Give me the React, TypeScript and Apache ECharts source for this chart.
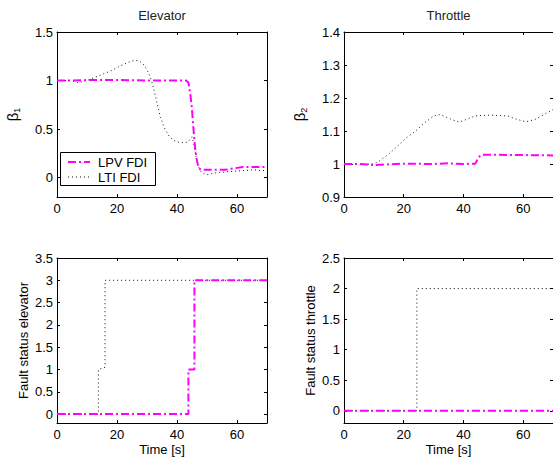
import React, { useEffect, useRef } from 'react';
import * as echarts from 'echarts';

// ---- data ----
const xTicks = [0, 20, 40, 60];
const elevBetaTicks = [0, 0.5, 1, 1.5];
const thrBetaTicks = [0.9, 1, 1.1, 1.2, 1.3, 1.4];
const elevFaultTicks = [0, 0.5, 1, 1.5, 2, 2.5, 3, 3.5];
const thrFaultTicks = [0, 0.5, 1, 1.5, 2, 2.5];

const elevBetaLpv = [
  [0, 1], [5, 1], [10, 1.005], [20, 1.005], [30, 1.0], [40, 1.0], [43, 1.0], [43.8, 0.98],
  [44.5, 0.85], [45, 0.7], [45.5, 0.5], [46, 0.32], [46.6, 0.18], [47.2, 0.1], [48, 0.08],
  [52, 0.08], [56, 0.08], [58, 0.09], [60, 0.1], [62, 0.11], [66, 0.11], [70, 0.11],
];
const elevBetaLti = [
  [0, 1], [4, 1], [7, 0.98], [10, 1.0], [14, 1.05], [18, 1.1], [21, 1.15], [24, 1.19], [26, 1.21],
  [27.5, 1.2], [29, 1.16], [30.5, 1.08], [31.5, 1.0], [32.5, 0.88], [33.5, 0.75], [34.5, 0.62],
  [36, 0.5], [37.5, 0.42], [39, 0.38], [41, 0.36], [43, 0.36], [44, 0.38], [45, 0.42], [45.6, 0.35],
  [46.3, 0.22], [47, 0.12], [48, 0.06], [49, 0.04], [50, 0.03], [53, 0.05], [57, 0.06], [61, 0.07],
  [65, 0.08], [70, 0.07],
];
const thrBetaLpv = [
  [0, 1.0], [5, 1.0], [10, 0.997], [15, 0.999], [20, 1.001], [30, 1.0], [35, 1.002], [40, 1.0],
  [44, 1.001], [45, 1.02], [46, 1.028], [50, 1.028], [60, 1.027], [70, 1.026],
];
const thrBetaLti = [
  [0, 1], [5, 0.998], [10, 1.0], [12, 1.01], [15, 1.03], [18, 1.055], [21, 1.08], [24, 1.1],
  [27, 1.125], [30, 1.145], [31.5, 1.15], [33, 1.147], [36, 1.135], [38.5, 1.127], [41, 1.135],
  [44, 1.146], [48, 1.148], [52, 1.147], [55, 1.145], [58, 1.135], [61, 1.128], [64, 1.135],
  [67, 1.15], [70, 1.165],
];
const elevFaultLpv = [[0, 0], [43.8, 0], [43.8, 1], [45.8, 1], [45.8, 3], [70, 3]];
const elevFaultLti = [[0, 0], [13.8, 0], [13.8, 1], [16, 1.05], [16, 3], [70, 3]];
const thrFaultLpv = [[0, 0], [70, 0]];
const thrFaultLti = [[0, 0], [24.4, 0], [24.4, 2], [70, 2]];

const FONT = '"Liberation Sans", Arial, Helvetica, sans-serif';
const MAGENTA = '#ff00ff';
const DASHDOT = [8, 3, 2, 3];
const DOTTED = [1, 3];

const panels = [
  { grid: { left: 57, top: 32, width: 210, height: 165 }, yMin: -0.2, yMax: 1.5, yTicks: elevBetaTicks,
    yName: '{a|β}{b|1}', yGap: 36, title: 'Elevator', xName: '', lpv: elevBetaLpv, lti: elevBetaLti },
  { grid: { left: 344, top: 32, width: 211, height: 165 }, yMin: 0.9, yMax: 1.4, yTicks: thrBetaTicks,
    yName: '{a|β}{b|2}', yGap: 36, title: 'Throttle', xName: '', lpv: thrBetaLpv, lti: thrBetaLti },
  { grid: { left: 57, top: 258, width: 210, height: 165 }, yMin: -0.2, yMax: 3.5, yTicks: elevFaultTicks,
    yName: 'Fault status elevator', yGap: 27, title: '', xName: 'Time [s]', lpv: elevFaultLpv, lti: elevFaultLti },
  { grid: { left: 344, top: 258, width: 211, height: 165 }, yMin: -0.2, yMax: 2.5, yTicks: thrFaultTicks,
    yName: 'Fault status throttle', yGap: 27, title: '', xName: 'Time [s]', lpv: thrFaultLpv, lti: thrFaultLti },
];

const fmt = (v: number) => String(+Number(v).toFixed(2));

function buildOption() {
  const grid: any[] = [];
  const xAxis: any[] = [];
  const yAxis: any[] = [];
  const series: any[] = [];
  const title: any[] = [];
  const axisLine = { show: true, onZero: false, lineStyle: { color: '#000', width: 1 } };
  panels.forEach((p, i) => {
    grid.push({ ...p.grid, containLabel: false });
    xAxis.push({
      type: 'value', gridIndex: i, min: 0, max: 70, position: 'bottom',
      axisLine, splitLine: { show: false },
      axisTick: { show: true, inside: true, length: 3, customValues: xTicks, lineStyle: { color: '#000' } },
      axisLabel: { show: true, customValues: xTicks, formatter: fmt, margin: 5, color: '#000', fontSize: 13, fontFamily: FONT },
      name: p.xName, nameLocation: 'middle', nameGap: 20,
      nameTextStyle: { color: '#000', fontSize: 13, fontFamily: FONT },
    });
    xAxis.push({
      type: 'value', gridIndex: i, min: 0, max: 70, position: 'top',
      axisLine, splitLine: { show: false },
      axisTick: { show: true, inside: true, length: 3, customValues: xTicks, lineStyle: { color: '#000' } },
      axisLabel: { show: false },
    });
    yAxis.push({
      type: 'value', gridIndex: i, min: p.yMin, max: p.yMax, position: 'left',
      axisLine, splitLine: { show: false },
      axisTick: { show: true, inside: true, length: 3, customValues: p.yTicks, lineStyle: { color: '#000' } },
      axisLabel: { show: true, customValues: p.yTicks, formatter: fmt, margin: 4, color: '#000', fontSize: 13, fontFamily: FONT },
      name: p.yName, nameLocation: 'middle', nameGap: p.yGap,
      nameTextStyle: {
        color: '#000', fontSize: 13, fontFamily: FONT,
        rich: {
          a: { fontSize: 15, lineHeight: 18, fontFamily: FONT, color: '#000' },
          b: { fontSize: 9, lineHeight: 9, verticalAlign: 'bottom', fontFamily: FONT, color: '#000' },
        },
      },
    });
    yAxis.push({
      type: 'value', gridIndex: i, min: p.yMin, max: p.yMax, position: 'right',
      axisLine, splitLine: { show: false },
      axisTick: { show: true, inside: true, length: 3, customValues: p.yTicks, lineStyle: { color: '#000' } },
      axisLabel: { show: false },
    });
    series.push({
      name: 'LPV FDI', type: 'line', xAxisIndex: 2 * i, yAxisIndex: 2 * i, data: p.lpv,
      symbol: 'none', showSymbol: false, z: 3,
      lineStyle: { color: MAGENTA, width: 2, type: DASHDOT },
    });
    series.push({
      name: 'LTI FDI', type: 'line', xAxisIndex: 2 * i, yAxisIndex: 2 * i, data: p.lti,
      symbol: 'none', showSymbol: false, z: 2,
      lineStyle: { color: '#111', width: 1, type: DOTTED },
    });
    if (p.title) {
      title.push({
        text: p.title, left: p.grid.left + p.grid.width / 2 - (i === 1 ? 1 : 0), top: 9, textAlign: 'center', padding: 0,
        textStyle: { fontSize: 13, fontWeight: 'normal', color: '#222', fontFamily: FONT },
      });
    }
  });

  const graphic = [
    {
      type: 'group', z: 100,
      children: [
        { type: 'rect', shape: { x: 60.5, y: 152.5, width: 95, height: 33 }, style: { fill: '#fff', stroke: '#000', lineWidth: 1 } },
        { type: 'line', shape: { x1: 68, y1: 162, x2: 90, y2: 162 }, style: { stroke: MAGENTA, lineWidth: 2, lineDash: DASHDOT } },
        { type: 'text', style: { x: 98, y: 162, text: 'LPV FDI', fontSize: 13, fontFamily: FONT, fill: '#000', verticalAlign: 'middle' } },
        { type: 'line', shape: { x1: 68, y1: 177, x2: 90, y2: 177 }, style: { stroke: '#111', lineWidth: 1, lineDash: DOTTED } },
        { type: 'text', style: { x: 98, y: 177, text: 'LTI FDI', fontSize: 13, fontFamily: FONT, fill: '#000', verticalAlign: 'middle' } },
      ],
    },
  ];

  return {
    animation: false,
    backgroundColor: '#fff',
    textStyle: { fontFamily: FONT },
    title, grid, xAxis, yAxis, series, graphic,
  };
}

export default function App() {
  const ref = useRef<HTMLDivElement>(null);
  useEffect(() => {
    if (!ref.current) return;
    const chart = echarts.init(ref.current, undefined, { renderer: 'svg' });
    chart.setOption(buildOption() as any);
    return () => chart.dispose();
  }, []);
  return <div ref={ref} style={{ position: 'absolute', left: 0, top: 0, width: 553, height: 459 }} />;
}
